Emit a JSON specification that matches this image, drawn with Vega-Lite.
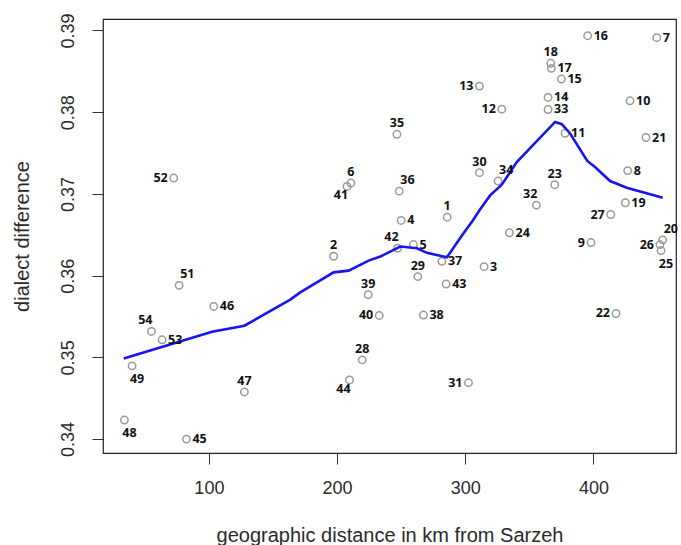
{
  "$schema": "https://vega.github.io/schema/vega-lite/v6.json",
  "width": 573,
  "height": 434,
  "autosize": {"type": "none"},
  "padding": {"left": 103, "top": 19, "right": 5, "bottom": 92},
  "background": "white",
  "config": {
    "view": {"stroke": "#222222", "strokeWidth": 1.2},
    "axis": {
      "domain": false,
      "grid": false,
      "tickColor": "#333333",
      "tickSize": 11,
      "labelFont": "Liberation Sans",
      "labelFontSize": 18,
      "labelColor": "#2a2a2a",
      "titleFont": "Liberation Sans",
      "titleFontSize": 20,
      "titleFontWeight": "normal",
      "titleColor": "#2a2a2a"
    }
  },
  "datasets": {
    "pts": [
      {"id": "1", "dist": 285.9, "diff": 0.36715},
      {"id": "2", "dist": 197.3, "diff": 0.36237},
      {"id": "3", "dist": 314.7, "diff": 0.3611},
      {"id": "4", "dist": 250.0, "diff": 0.36675},
      {"id": "5", "dist": 259.6, "diff": 0.3638},
      {"id": "6", "dist": 210.8, "diff": 0.37133},
      {"id": "7", "dist": 449.4, "diff": 0.38912},
      {"id": "8", "dist": 426.7, "diff": 0.37285},
      {"id": "9", "dist": 398.1, "diff": 0.36405},
      {"id": "10", "dist": 428.5, "diff": 0.38139},
      {"id": "11", "dist": 377.9, "diff": 0.37742},
      {"id": "12", "dist": 328.5, "diff": 0.38037},
      {"id": "13", "dist": 311.1, "diff": 0.38319},
      {"id": "14", "dist": 364.6, "diff": 0.3818},
      {"id": "15", "dist": 375.0, "diff": 0.38405},
      {"id": "16", "dist": 395.5, "diff": 0.38936},
      {"id": "17", "dist": 367.2, "diff": 0.38536},
      {"id": "18", "dist": 366.7, "diff": 0.38598},
      {"id": "19", "dist": 424.9, "diff": 0.36892},
      {"id": "20", "dist": 454.0, "diff": 0.36438},
      {"id": "21", "dist": 441.0, "diff": 0.3769},
      {"id": "22", "dist": 417.6, "diff": 0.35537},
      {"id": "23", "dist": 369.8, "diff": 0.37113},
      {"id": "24", "dist": 334.5, "diff": 0.36524},
      {"id": "25", "dist": 452.7, "diff": 0.36307},
      {"id": "26", "dist": 451.9, "diff": 0.3638},
      {"id": "27", "dist": 413.5, "diff": 0.36748},
      {"id": "28", "dist": 219.6, "diff": 0.34969},
      {"id": "29", "dist": 263.0, "diff": 0.35988},
      {"id": "30", "dist": 311.1, "diff": 0.3726},
      {"id": "31", "dist": 302.5, "diff": 0.34691},
      {"id": "32", "dist": 355.5, "diff": 0.36863},
      {"id": "33", "dist": 364.6, "diff": 0.38033},
      {"id": "34", "dist": 325.6, "diff": 0.37157},
      {"id": "35", "dist": 246.7, "diff": 0.3773},
      {"id": "36", "dist": 248.5, "diff": 0.37034},
      {"id": "37", "dist": 281.8, "diff": 0.36175},
      {"id": "38", "dist": 267.4, "diff": 0.35518},
      {"id": "39", "dist": 224.3, "diff": 0.35767},
      {"id": "40", "dist": 232.9, "diff": 0.35513},
      {"id": "41", "dist": 207.7, "diff": 0.37092},
      {"id": "42", "dist": 247.2, "diff": 0.36335},
      {"id": "43", "dist": 285.1, "diff": 0.35898},
      {"id": "44", "dist": 209.7, "diff": 0.34724},
      {"id": "45", "dist": 82.5, "diff": 0.34},
      {"id": "46", "dist": 103.8, "diff": 0.35623},
      {"id": "47", "dist": 127.7, "diff": 0.34577},
      {"id": "48", "dist": 34.1, "diff": 0.34233},
      {"id": "49", "dist": 40.1, "diff": 0.34896},
      {"id": "51", "dist": 76.8, "diff": 0.35881},
      {"id": "52", "dist": 72.6, "diff": 0.37194},
      {"id": "53", "dist": 63.5, "diff": 0.35215},
      {"id": "54", "dist": 55.2, "diff": 0.35317}
    ],
    "smooth": [
      {"dist": 33.6, "diff": 0.34985},
      {"dist": 102.5, "diff": 0.35313},
      {"dist": 127.7, "diff": 0.35387},
      {"dist": 163.5, "diff": 0.35706},
      {"dist": 171.3, "diff": 0.35795},
      {"dist": 197.3, "diff": 0.3604},
      {"dist": 209.0, "diff": 0.36061},
      {"dist": 224.6, "diff": 0.36184},
      {"dist": 233.7, "diff": 0.36233},
      {"dist": 249.3, "diff": 0.36356},
      {"dist": 262.3, "diff": 0.36335},
      {"dist": 270.1, "diff": 0.36279},
      {"dist": 285.7, "diff": 0.36224},
      {"dist": 297.4, "diff": 0.36491},
      {"dist": 305.9, "diff": 0.36675},
      {"dist": 311.5, "diff": 0.3681},
      {"dist": 319.4, "diff": 0.36982},
      {"dist": 328.5, "diff": 0.37113},
      {"dist": 340.2, "diff": 0.3739},
      {"dist": 370.1, "diff": 0.37881},
      {"dist": 375.3, "diff": 0.37853},
      {"dist": 381.8, "diff": 0.37739},
      {"dist": 395.2, "diff": 0.37403},
      {"dist": 401.2, "diff": 0.37329},
      {"dist": 413.0, "diff": 0.37157},
      {"dist": 426.0, "diff": 0.37076},
      {"dist": 454.0, "diff": 0.36953}
    ]
  },
  "encoding": {
    "x": {
      "field": "dist",
      "type": "quantitative",
      "scale": {"domain": [17.4, 464.4], "nice": false, "zero": false},
      "axis": {"values": [100, 200, 300, 400], "labelPadding": 15, "title": "geographic distance in km from Sarzeh", "titlePadding": 28}
    },
    "y": {
      "field": "diff",
      "type": "quantitative",
      "scale": {"domain": [0.3383, 0.3914], "nice": false, "zero": false},
      "axis": {"values": [0.34, 0.35, 0.36, 0.37, 0.38, 0.39], "format": ".2f", "labelAngle": -90, "labelAlign": "center", "labelBaseline": "bottom", "labelPadding": 15, "title": "dialect difference", "titlePadding": 27}
    }
  },
  "layer": [
    {
      "data": {"name": "pts"},
      "mark": {"type": "point", "shape": "circle", "filled": false, "stroke": "#9a9a9a", "strokeWidth": 1.5, "size": 55, "opacity": 1}
    },
    {
      "data": {"name": "smooth"},
      "mark": {"type": "line", "color": "#1515f0", "strokeWidth": 2.6},
      "encoding": {"order": {"field": "dist", "type": "quantitative"}}
    },
    {
      "data": {"name": "pts"},
      "transform": [{"filter": {"field": "id", "oneOf": ["4","16","7","17","15","14","33","10","11","21","8","19","24","3","37","43","38","46","45","53","5"]}}],
      "mark": {"type": "text", "align": "left", "baseline": "middle", "dx": 6, "dy": 0, "font": "Open Sans", "fontWeight": "bold", "fontSize": 12.5, "color": "#111111"},
      "encoding": {"text": {"field": "id"}}
    },
    {
      "data": {"name": "pts"},
      "transform": [{"filter": {"field": "id", "oneOf": ["52","13","12","9","26","27","40","31","22"]}}],
      "mark": {"type": "text", "align": "right", "baseline": "middle", "dx": -6, "dy": 0, "font": "Open Sans", "fontWeight": "bold", "fontSize": 12.5, "color": "#111111"},
      "encoding": {"text": {"field": "id"}}
    },
    {
      "data": {"name": "pts"},
      "transform": [{"filter": {"field": "id", "oneOf": ["35","30","6","1","18","23","2","29","39","28","47"]}}],
      "mark": {"type": "text", "align": "center", "baseline": "middle", "dx": 0, "dy": -11, "font": "Open Sans", "fontWeight": "bold", "fontSize": 12.5, "color": "#111111"},
      "encoding": {"text": {"field": "id"}}
    },
    {
      "data": {"name": "pts"},
      "transform": [{"filter": {"field": "id", "oneOf": ["25","49","48"]}}],
      "mark": {"type": "text", "align": "center", "baseline": "middle", "dx": 5, "dy": 13, "font": "Open Sans", "fontWeight": "bold", "fontSize": 12.5, "color": "#111111"},
      "encoding": {"text": {"field": "id"}}
    },
    {
      "data": {"name": "pts"},
      "transform": [{"filter": {"field": "id", "oneOf": ["41","44"]}}],
      "mark": {"type": "text", "align": "center", "baseline": "middle", "dx": -6, "dy": 9, "font": "Open Sans", "fontWeight": "bold", "fontSize": 12.5, "color": "#111111"},
      "encoding": {"text": {"field": "id"}}
    },
    {
      "data": {"name": "pts"},
      "transform": [{"filter": {"field": "id", "oneOf": ["36","34","51","20"]}}],
      "mark": {"type": "text", "align": "left", "baseline": "middle", "dx": 1, "dy": -11, "font": "Open Sans", "fontWeight": "bold", "fontSize": 12.5, "color": "#111111"},
      "encoding": {"text": {"field": "id"}}
    },
    {
      "data": {"name": "pts"},
      "transform": [{"filter": {"field": "id", "oneOf": ["54","42","32"]}}],
      "mark": {"type": "text", "align": "right", "baseline": "middle", "dx": 1, "dy": -11, "font": "Open Sans", "fontWeight": "bold", "fontSize": 12.5, "color": "#111111"},
      "encoding": {"text": {"field": "id"}}
    }
  ]
}
